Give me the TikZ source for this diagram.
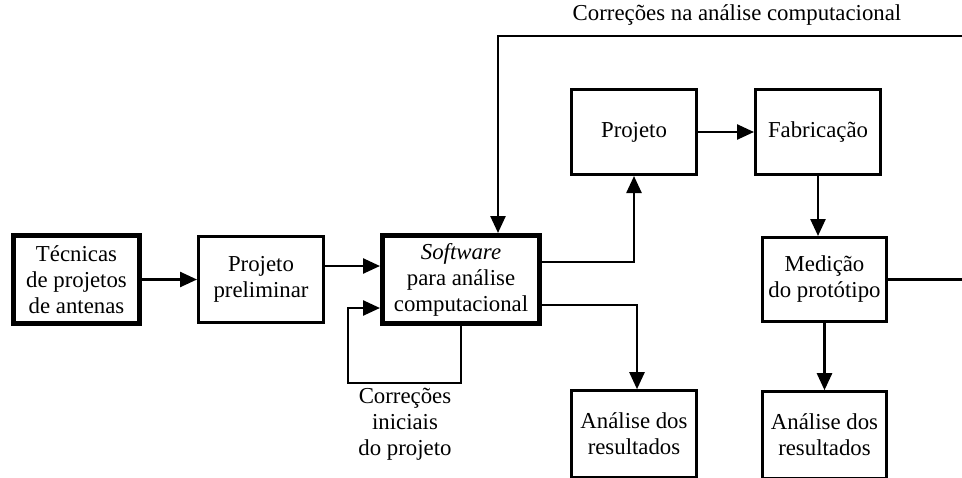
\documentclass[tikz,border=0pt]{standalone}
\usepackage{fontspec}
\setmainfont{Liberation Serif}
\usepackage{tikz}
\usetikzlibrary{arrows.meta}
\tikzstyle{block} = [draw, line width=2.6pt, minimum width=125.4pt, minimum height=86.4pt, align=center, inner sep=0pt]
\tikzstyle{mainblock} = [block, line width=5pt, minimum width=126pt, minimum height=88pt]
\tikzstyle{line} = [draw, line width=2.5pt, -{Triangle[length=17pt,width=15pt]}]
\tikzstyle{label} = [align=center, inner sep=0pt]

\begin{document}
\begin{tikzpicture}[x=1pt, y=-1pt, font=\fontsize{22.8}{26}\selectfont]
	\useasboundingbox (0,0) rectangle (962,477);
	\clip (0,0) rectangle (962,477);
	
	\node[mainblock] (tecnicas) at (76.5,279.5) {Técnicas\\de projetos\\de antenas};
	\node[block] (prelim) at (261,279.5) {Projeto\\preliminar};
	\node[mainblock, minimum width=157pt] (software) at (461,279.5) {\textit{Software}\\para análise\\computacional};
	
	\node[block, minimum height=85.4pt] (projeto) at (634,132) {Projeto};
	\node[block, minimum height=85.4pt] (fabricacao) at (818,132) {Fabricação};
	\node[block, minimum width=124.4pt, minimum height=84.4pt] (medicao) at (824.5,279.5) {Medição\\do protótipo};
	
	\node[block, minimum height=87pt] (analiseA) at (634,434) {Análise dos\\resultados};
	\node[block, minimum width=124.4pt, minimum height=87pt] (analiseB) at (824.5,435) {Análise dos\\resultados};
	
	\node[label] (corrIni) at (405,424) {Correções\\iniciais\\do projeto};
	\node[label] (corrComp) at (737,15) {Correções na análise computacional};
	
	\coordinate (loopA) at (348,383);
	\coordinate (fbR) at (975,279.5);
	\coordinate (fbT) at (975,36);
	
	\path[line] (tecnicas) -- (prelim);
	\path[line] ([yshift=13.5pt]prelim.east) -- ([yshift=13.5pt]software.west);
	\path[line] ([yshift=17.5pt]software.east) -| (projeto.south);
	\path[line] ([yshift=-25.5pt]software.east) -| ([xshift=3pt]analiseA.north);
	\path[line] (software.south) |- (loopA) |- ([yshift=-28.5pt]software.west);
	\path[line] (projeto) -- (fabricacao);
	\path[line] (fabricacao.south) -- (fabricacao.south |- medicao.north);
	\path[line] (medicao.south) -- (analiseB.north);
	\path[line] (medicao.east) -- (fbR) -- (fbT) -| ([xshift=37pt]software.north);
\end{tikzpicture}
\end{document}
